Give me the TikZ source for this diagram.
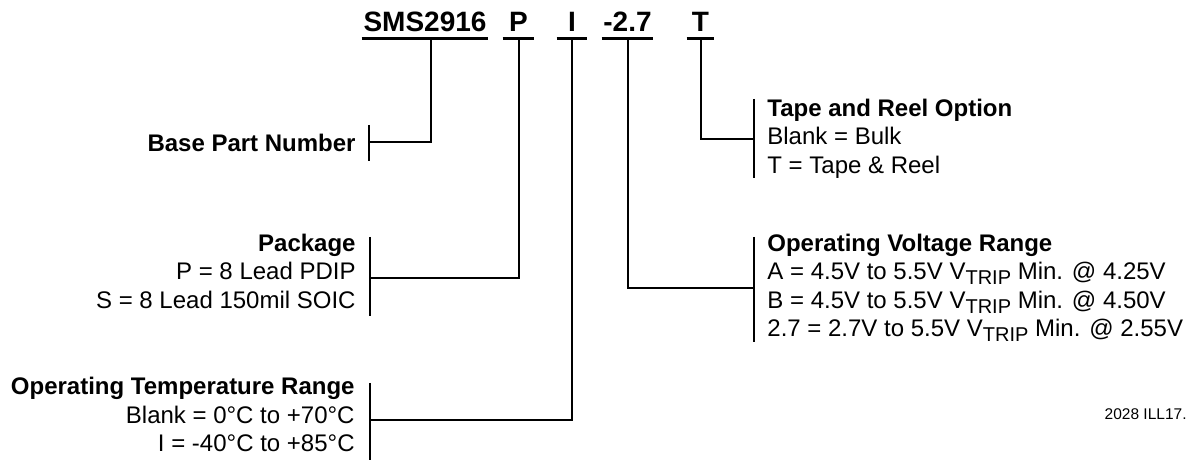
\documentclass[tikz,border=0pt]{standalone}
\usepackage{fontspec}
\setmainfont{Liberation Sans}
\newcommand{\vtrip}{V\raisebox{-2.5pt}{\fontsize{10}{12}\selectfont TRIP}}

\begin{document}
\begin{tikzpicture}[
    x=0.5pt, y=-0.5pt,
    line cap=butt, line join=miter,
    wire/.style={black, line width=1pt},
    uline/.style={black, line width=1.2pt},
    code/.style={font=\fontsize{14}{16}\selectfont\bfseries, inner sep=0pt, text depth=3pt, anchor=base},
    head/.style={font=\fontsize{12}{14}\selectfont\bfseries, inner sep=0pt},
    desc/.style={font=\fontsize{12}{14}\selectfont, inner sep=0pt},
]
\useasboundingbox (0,0) rectangle (1189,464);

% Part number fields (underlined)
\node[code, minimum width=63pt] (sms) at (425,32) {SMS2916};
\node[code, minimum width=15.5pt] (pp) at (518.5,32) {P};
\node[code, minimum width=15pt] (ii) at (572,32) {I};
\node[code, minimum width=25.5pt] (vv) at (627.5,32) {-2.7};
\node[code, minimum width=13.5pt] (tt) at (700.5,32) {T};
\foreach \n in {sms,pp,ii,vv,tt}
    \draw[uline] (\n.south west) -- (\n.south east);

% Base part number
\node[head, anchor=base east] (bpn) at (356,152) {Base Part Number};
\coordinate (bpnT) at (369,125);
\coordinate (bpnB) at (369,161);
\coordinate (bpnJ) at (369,142);
\draw[wire] (bpnT) -- (bpnB);
\draw[wire] ([xshift=3pt]sms.south) |- (bpnJ);

% Package
\node[head, anchor=base east] (pkg) at (356,252) {Package};
\node[desc, anchor=base east] (pkgP) at (356,280) {P = 8 Lead PDIP};
\node[desc, anchor=base east] (pkgS) at (356,308.3) {S = 8 Lead 150mil SOIC};
\coordinate (pkgT) at (370,237);
\coordinate (pkgB) at (370,316);
\coordinate (pkgJ) at (370,278.5);
\draw[wire] (pkgT) -- (pkgB);
\draw[wire] (pp.south) |- (pkgJ);

% Operating temperature range
\node[head, anchor=base east] (tmp) at (355,395) {Operating Temperature Range};
\node[desc, anchor=base east] (tmpB) at (355,423.3) {Blank = 0°C to +70°C};
\node[desc, anchor=base east] (tmpI) at (355,451.7) {I = -40°C to +85°C};
\coordinate (tmpT) at (369.5,383);
\coordinate (tmpE) at (369.5,460);
\coordinate (tmpJ) at (369.5,420);
\draw[wire] (tmpT) -- (tmpE);
\draw[wire] (ii.south) |- (tmpJ);

% Tape and reel option
\node[head, anchor=base west] (tap) at (767,116.7) {Tape and Reel Option};
\node[desc, anchor=base west] (tapB) at (767,145) {Blank = Bulk};
\node[desc, anchor=base west] (tapT) at (767,173.3) {T = Tape \& Reel};
\coordinate (tapTop) at (754,99);
\coordinate (tapBot) at (754,178);
\coordinate (tapJ) at (754,139);
\draw[wire] (tapTop) -- (tapBot);
\draw[wire] (tt.south) |- (tapJ);

% Operating voltage range
\node[head, anchor=base west] (vol) at (767,251.7) {Operating Voltage Range};
\node[desc, anchor=base west] (volA) at (767,280) {A = 4.5V to 5.5V \vtrip{} Min. @ 4.25V};
\node[desc, anchor=base west] (volB) at (767,308.3) {B = 4.5V to 5.5V \vtrip{} Min. @ 4.50V};
\node[desc, anchor=base west] (volC) at (767,336.7) {2.7 = 2.7V to 5.5V \vtrip{} Min. @ 2.55V};
\coordinate (volT) at (754,237);
\coordinate (volE) at (754,342);
\coordinate (volJ) at (754,288.3);
\draw[wire] (volT) -- (volE);
\draw[wire] (vv.south) |- (volJ);

% Figure number
\node[font=\fontsize{7.75}{9}\selectfont, inner sep=0pt, anchor=base east] (ill) at (1187,420) {2028 ILL17.};

\end{tikzpicture}
\end{document}
